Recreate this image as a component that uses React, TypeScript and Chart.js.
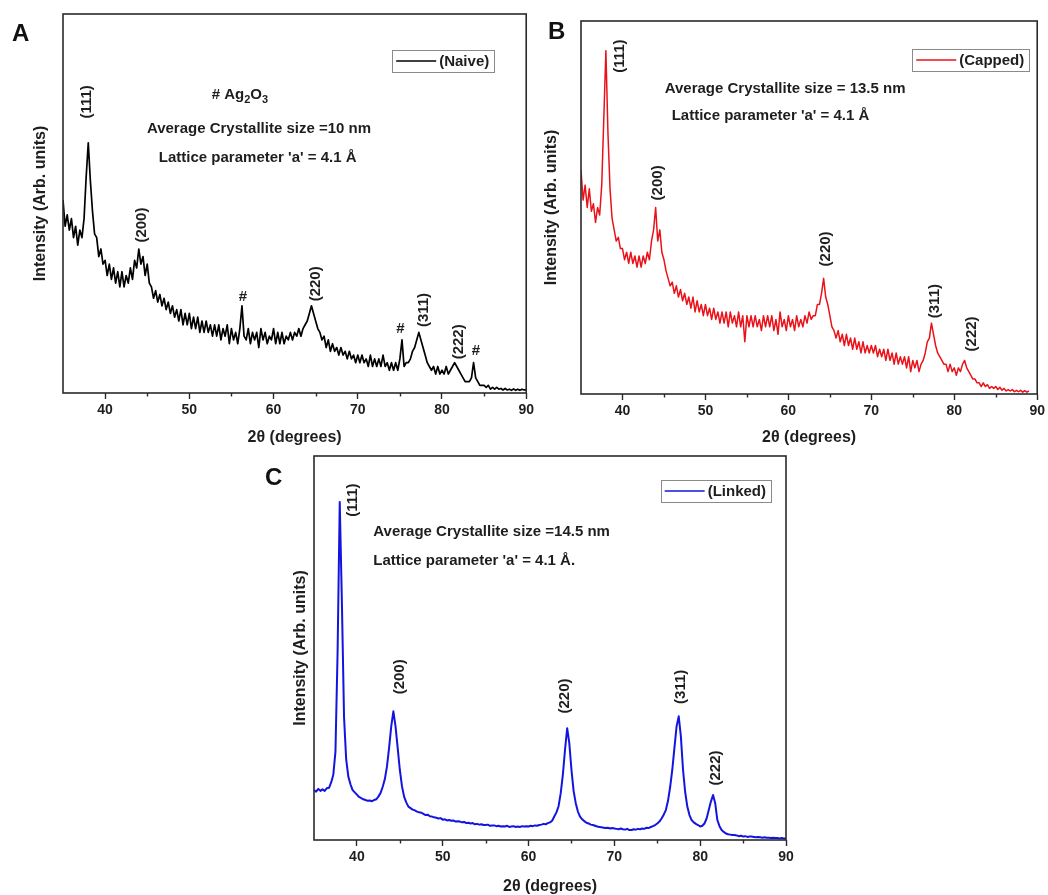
import React, { useEffect, useRef } from "react";
import { Chart, registerables } from "chart.js";

Chart.register(...registerables);

const FONT = '"Liberation Sans", Arial, Helvetica, sans-serif';
const TEXT_COLOR = "#1e1e1e";

// x grid of the scans (2θ, degrees)
const X_START = 35;
const X_STEP = 0.25;
const X_MIN = 35;
const X_MAX = 90;
const X_TICK_LABELS = [40, 50, 60, 70, 80, 90];
const X_MINOR_TICKS = [45, 55, 65, 75, 85];

// Intensity (arb. units, 0-100 of the plot height), one value per 0.25° from 35° to 90°
const NAIVE = [
  51, 44, 47, 43, 46, 41, 44, 39, 43, 41, 46, 57, 66, 56, 48, 42, // 35-38
  41, 36, 38, 34, 35, 31, 34, 30, 33, 29, 32, 28, 32, 28, 31, 29, // 39-42
  33, 30, 35, 33, 38, 34, 36, 31, 34, 29, 28, 25, 27, 24, 26, 23, // 43-46
  25, 22, 24, 21, 23, 20, 22, 19, 22, 18, 21, 18, 21, 17, 20, 17, // 47-50
  20, 16, 19, 16, 19, 16, 18, 15, 18, 15, 18, 14, 17, 15, 18, 13, // 51-54
  17, 14, 16, 13, 17, 23, 15, 14, 17, 13, 16, 14, 16, 12, 17, 14, // 55-58
  16, 13, 15, 14, 17, 13, 16, 13, 16, 13, 15, 14, 16, 14, 16, 15, // 59-62
  17, 15, 17, 18, 19, 21, 23, 21, 19, 17, 16, 14, 15, 12, 14, 11, // 63-66
  13, 11, 12, 10, 12, 10, 11, 9, 11, 9, 10, 8, 10, 8, 10, 8,       // 67-70
  9, 7, 10, 7, 9, 7, 9, 7, 10, 7, 8, 6, 8, 6, 8, 6,                // 71-74
  9, 14, 7, 8, 8, 9, 11, 12, 14, 16, 14, 12, 10, 8, 7, 6,          // 75-78
  7, 5, 7, 5, 6, 5, 7, 5, 6, 7, 8, 7, 6, 5, 4, 3,                  // 79-82
  3, 3, 4, 8, 4, 3, 2, 2, 2, 1.5, 2, 1, 1.5, 1, 1.5, 1,            // 83-86
  1.2, 0.8, 1.2, 0.8, 1, 0.7, 1.1, 0.7, 1, 0.7, 1, 0.8, 0.8,       // 87-90
];

const CAPPED = [
  60, 52, 56, 50, 55, 49, 51, 46, 50, 48, 56, 74, 92, 70, 55, 47, // 35-38
  44, 41, 42, 39, 39, 36, 38, 35, 38, 35, 37, 34, 37, 34, 37, 35, // 39-42
  38, 36, 41, 44, 50, 41, 44, 38, 36, 33, 31, 29, 30, 27, 29, 26, // 43-46
  28, 25, 27, 24, 26, 23, 26, 22, 25, 22, 24, 21, 24, 21, 23, 20, // 47-50
  23, 20, 22, 19, 22, 19, 22, 18, 22, 19, 21, 18, 22, 18, 21, 14, // 51-54
  21, 18, 21, 18, 21, 18, 20, 17, 21, 18, 21, 18, 21, 17, 20, 16, // 55-58
  22, 18, 20, 17, 21, 18, 20, 17, 21, 18, 20, 18, 21, 19, 22, 20, // 59-62
  21, 21, 24, 24, 27, 31, 26, 24, 21, 18, 17, 15, 17, 14, 16, 13, // 63-66
  16, 13, 15, 12, 15, 12, 14, 11, 14, 11, 13, 11, 13, 11, 13, 10, // 67-70
  12, 10, 12, 9, 12, 9, 11, 8, 11, 8, 10, 8, 10, 7, 10, 6,        // 71-74
  9, 7, 9, 6, 8, 9, 11, 14, 15, 19, 16, 13, 11, 10, 9, 8,         // 75-78
  8, 6, 8, 6, 7, 5, 7, 6, 8, 9, 7, 6, 5, 4, 4, 3,                 // 79-82
  3, 2, 3, 2, 2.5, 1.5, 2, 1.5, 2, 1.2, 1.8, 1, 1.5, 0.8, 1.2, 0.8, // 83-86
  1.2, 0.6, 1, 0.6, 1, 0.5, 0.9, 0.5, 0.8, null, null, null, null,  // 87-90
];

const LINKED = [
  13, 12.6, 13.3, 12.8, 13.2, 12.8, 13.5, 13.6, 15, 17, 23, 49, 88, 62, 32, 21, // 35-38
  16.5, 14.5, 13, 12.4, 11.8, 11.2, 10.9, 10.6, 10.4, 10.2, 10.3, 10.1, 10.4, 10.6, 11.3, 12.2, // 39-42
  13.8, 15.8, 19.1, 24, 29.6, 33.5, 29.6, 24, 18.3, 14, 11.3, 9.8, 8.7, 8.3, 7.9, 7.7, // 43-46
  7.4, 7.2, 7.1, 6.8, 6.5, 6.6, 6.2, 6.1, 5.9, 5.8, 5.6, 5.7, 5.3, 5.4, 5.1, 5.2, // 47-50
  5.0, 5.1, 4.8, 4.9, 4.8, 4.6, 4.7, 4.4, 4.5, 4.3, 4.4, 4.1, 4.2, 4.0, 4.1, 3.9, // 51-54
  3.9, 4.0, 3.7, 3.8, 3.8, 3.6, 3.7, 3.5, 3.6, 3.5, 3.7, 3.4, 3.5, 3.6, 3.4, 3.5, // 55-58
  3.4, 3.6, 3.5, 3.6, 3.5, 3.7, 3.6, 3.8, 3.7, 3.9, 4.0, 4.2, 4.1, 4.4, 4.6, 5.0, // 59-62
  6.1, 7.2, 8.8, 12.2, 17, 23.5, 29.1, 25.2, 18.3, 12.8, 9.6, 7.4, 6.1, 5.4, 4.9, 4.5, // 63-66
  4.3, 4.0, 3.9, 3.7, 3.5, 3.4, 3.3, 3.2, 3.1, 3.2, 3.0, 3.1, 3.0, 2.9, 2.8, 3.0, // 67-70
  2.8, 2.7, 2.9, 2.6, 2.6, 2.8, 2.7, 2.9, 2.8, 3.0, 2.9, 3.2, 3.1, 3.4, 3.6, 3.9, // 71-74
  4.3, 4.8, 5.6, 6.6, 7.8, 10.2, 13.8, 18.3, 24, 29.6, 32.2, 27, 18.3, 12.5, 8.7, 6.5, // 75-78
  5.2, 4.6, 4.2, 3.9, 3.5, 3.7, 4.3, 5.6, 7.8, 10, 11.7, 9.6, 5.2, 3.6, 2.6, 2.1, // 79-82
  1.7, 1.5, 1.4, 1.3, 1.3, 1.2, 1.0, 1.1, 0.9, 1.0, 0.8, 0.9, 0.9, 0.8, 0.7, 0.8, // 83-86
  0.7, 0.6, 0.7, 0.6, 0.6, 0.5, 0.6, 0.5, 0.5, 0.4, 0.5, 0.4, 0.4, // 87-90
];

// Peak labels: [text, 2θ, intensity]
type Peak = [string, number, number];
const PEAKS_NAIVE: Peak[] = [
  ["(111)", 37.85, 76.8],
  ["(200)", 44.37, 44.3],
  ["(220)", 65.07, 28.8],
  ["(311)", 77.8, 21.9],
  ["(222)", 82.06, 13.5],
];
const HASHES_NAIVE: [number, number][] = [
  [56.37, 25.3],
  [75.07, 16.9],
  [84.04, 11.2],
];
const PEAKS_CAPPED: Peak[] = [
  ["(111)", 39.68, 90.6],
  ["(200)", 44.22, 56.6],
  ["(220)", 64.5, 38.9],
  ["(311)", 77.72, 24.9],
  ["(222)", 82.11, 16.1],
];
const PEAKS_LINKED: Peak[] = [
  ["(111)", 39.58, 88.5],
  ["(200)", 45.02, 42.5],
  ["(220)", 64.19, 37.5],
  ["(311)", 77.71, 39.9],
  ["(222)", 81.84, 18.75],
];

// Notes: text parts ([text, subscript?]), left 2θ, intensity
type Note = { parts: [string, boolean][]; x: number; y: number };
const NOTES_NAIVE: Note[] = [
  { parts: [["# Ag", false], ["2", true], ["O", false], ["3", true]], x: 52.66, y: 78.6 },
  { parts: [["Average Crystallite size =10 nm", false]], x: 44.96, y: 69.7 },
  { parts: [["Lattice parameter 'a' = 4.1 Å", false]], x: 46.38, y: 62.0 },
];
const NOTES_CAPPED: Note[] = [
  { parts: [["Average Crystallite size = 13.5 nm", false]], x: 45.09, y: 81.7 },
  { parts: [["Lattice parameter 'a' = 4.1 Å", false]], x: 45.93, y: 74.5 },
];
const NOTES_LINKED: Note[] = [
  { parts: [["Average Crystallite size =14.5 nm", false]], x: 41.91, y: 80.3 },
  { parts: [["Lattice parameter 'a' = 4.1 Å.", false]], x: 41.91, y: 72.7 },
];

type PanelCfg = {
  letter: string;
  letterLeft: number;
  letterTop: number;
  label: string;
  color: string;
  lineWidth: number;
  values: (number | null)[];
  peaks: Peak[];
  hashes: [number, number][];
  notes: Note[];
  left: number;
  top: number;
  width: number;
  height: number;
  padding: { left: number; right: number; top: number; bottom: number };
  yAxisWidth: number;
  xAxisHeight: number;
  yTitlePad: number;
  xTitlePad: number;
  legendRight: number;
  legendTop: number;
};

const PANELS: PanelCfg[] = [
  {
    letter: "A", letterLeft: 12, letterTop: 21,
    label: "(Naive)", color: "#000000", lineWidth: 1.7,
    values: NAIVE, peaks: PEAKS_NAIVE, hashes: HASHES_NAIVE, notes: NOTES_NAIVE,
    left: 0, top: 0, width: 537, height: 450,
    padding: { left: 0, right: 10, top: 14, bottom: 0 },
    yAxisWidth: 63, xAxisHeight: 57, yTitlePad: 33, xTitlePad: 4,
    legendRight: 32, legendTop: 36,
  },
  {
    letter: "B", letterLeft: 548, letterTop: 19,
    label: "(Capped)", color: "#ea1218", lineWidth: 1.5,
    values: CAPPED, peaks: PEAKS_CAPPED, hashes: [], notes: NOTES_CAPPED,
    left: 537, top: 0, width: 511, height: 450,
    padding: { left: 0, right: 9, top: 21, bottom: 0 },
    yAxisWidth: 44, xAxisHeight: 56, yTitlePad: 7, xTitlePad: 4,
    legendRight: 8, legendTop: 28,
  },
  {
    letter: "C", letterLeft: 265, letterTop: 465,
    label: "(Linked)", color: "#1414e0", lineWidth: 2,
    values: LINKED, peaks: PEAKS_LINKED, hashes: [], notes: NOTES_LINKED,
    left: 270, top: 450, width: 530, height: 445,
    padding: { left: 0, right: 14, top: 6, bottom: 0 },
    yAxisWidth: 44, xAxisHeight: 55, yTitlePad: 22.6, xTitlePad: 0.5,
    legendRight: 15, legendTop: 24,
  },
];

function XrdPanel({ cfg }: { cfg: PanelCfg }) {
  const ref = useRef<HTMLCanvasElement>(null);

  useEffect(() => {
    const canvas = ref.current;
    if (!canvas) return;
    const points = cfg.values.map((v, i) => ({ x: X_START + i * X_STEP, y: v }));

    const overlay = {
      id: "xrdOverlay",
      afterDraw(chart: any) {
        const { ctx, chartArea } = chart;
        const xs = chart.scales.x;
        const ys = chart.scales.y;
        ctx.save();
        // frame
        ctx.strokeStyle = "#2a2a2a";
        ctx.lineWidth = 1.6;
        ctx.strokeRect(chartArea.left, chartArea.top, chartArea.right - chartArea.left, chartArea.bottom - chartArea.top);
        // minor ticks
        ctx.lineWidth = 1.4;
        for (const v of X_MINOR_TICKS) {
          const px = Math.round(xs.getPixelForValue(v)) + 0.5;
          ctx.beginPath();
          ctx.moveTo(px, chartArea.bottom);
          ctx.lineTo(px, chartArea.bottom + 3.5);
          ctx.stroke();
        }
        ctx.fillStyle = TEXT_COLOR;
        // peak labels
        ctx.font = `bold 15px ${FONT}`;
        ctx.textAlign = "center";
        ctx.textBaseline = "middle";
        for (const [t, x, y] of cfg.peaks) {
          ctx.save();
          ctx.translate(xs.getPixelForValue(x), ys.getPixelForValue(y));
          ctx.rotate(-Math.PI / 2);
          ctx.fillText(t, 0, 0);
          ctx.restore();
        }
        for (const [x, y] of cfg.hashes) {
          ctx.fillText("#", xs.getPixelForValue(x), ys.getPixelForValue(y));
        }
        // notes
        ctx.textAlign = "left";
        for (const n of cfg.notes) {
          let px = xs.getPixelForValue(n.x);
          const py = ys.getPixelForValue(n.y);
          for (const [t, sub] of n.parts) {
            ctx.font = sub ? `bold 11px ${FONT}` : `bold 15px ${FONT}`;
            ctx.fillText(t, px, sub ? py + 4.5 : py);
            px += ctx.measureText(t).width;
          }
        }
        // legend
        ctx.font = `bold 15px ${FONT}`;
        const tw = ctx.measureText(cfg.label).width;
        const boxW = 4 + 40 + 3 + tw + 5;
        const boxH = 22;
        const bx = chartArea.right - cfg.legendRight - boxW;
        const by = chartArea.top + cfg.legendTop;
        ctx.fillStyle = "#ffffff";
        ctx.fillRect(bx, by, boxW, boxH);
        ctx.strokeStyle = "#8a8a8a";
        ctx.lineWidth = 1;
        ctx.strokeRect(Math.round(bx) + 0.5, Math.round(by) + 0.5, Math.round(boxW), boxH);
        ctx.strokeStyle = cfg.color;
        ctx.lineWidth = 1.5;
        ctx.beginPath();
        ctx.moveTo(bx + 4, by + boxH / 2);
        ctx.lineTo(bx + 44, by + boxH / 2);
        ctx.stroke();
        ctx.fillStyle = TEXT_COLOR;
        ctx.textBaseline = "middle";
        ctx.fillText(cfg.label, bx + 47, by + boxH / 2 + 0.5);
        ctx.restore();
      },
    };

    const chart = new Chart(canvas, {
      type: "line",
      data: {
        datasets: [
          {
            label: cfg.label,
            data: points as any,
            borderColor: cfg.color,
            backgroundColor: cfg.color,
            borderWidth: cfg.lineWidth,
            borderJoinStyle: "round",
            pointRadius: 0,
            tension: 0,
            fill: false,
            spanGaps: false,
          },
        ],
      },
      options: {
        responsive: false,
        animation: false,
        layout: { padding: cfg.padding },
        plugins: { legend: { display: false }, tooltip: { enabled: false } },
        scales: {
          x: {
            type: "linear",
            min: X_MIN,
            max: X_MAX,
            afterBuildTicks: (s: any) => {
              s.ticks = X_TICK_LABELS.map((v) => ({ value: v }));
            },
            afterFit: (s: any) => {
              s.height = cfg.xAxisHeight;
            },
            ticks: {
              color: TEXT_COLOR,
              font: { family: FONT, size: 14, weight: "bold" },
              padding: 3,
              maxRotation: 0,
              autoSkip: false,
              callback: (v: any) => String(v),
            },
            grid: {
              display: true,
              drawOnChartArea: false,
              drawTicks: true,
              tickLength: 6,
              tickColor: "#2a2a2a",
              tickWidth: 1.4,
            },
            border: { display: false },
            title: {
              display: true,
              text: "2θ (degrees)",
              color: TEXT_COLOR,
              font: { family: FONT, size: 16, weight: "bold", lineHeight: 1 },
              padding: { top: cfg.xTitlePad, bottom: cfg.xTitlePad },
            },
          },
          y: {
            type: "linear",
            min: 0,
            max: 100,
            afterFit: (s: any) => {
              s.width = cfg.yAxisWidth;
            },
            ticks: { display: false },
            grid: { display: false },
            border: { display: false },
            title: {
              display: true,
              text: "Intensity (Arb. units)",
              color: TEXT_COLOR,
              font: { family: FONT, size: 16, weight: "bold", lineHeight: 1 },
              padding: { top: cfg.yTitlePad, bottom: cfg.yTitlePad },
            },
          },
        },
      } as any,
      plugins: [overlay],
    });
    return () => chart.destroy();
  }, [cfg]);

  return (
    <canvas
      ref={ref}
      width={cfg.width}
      height={cfg.height}
      style={{ position: "absolute", left: cfg.left, top: cfg.top, width: cfg.width, height: cfg.height }}
    />
  );
}

export default function App() {
  return (
    <div style={{ position: "absolute", left: 0, top: 0, width: 1048, height: 895, background: "#ffffff" }}>
      {PANELS.map((p) => (
        <XrdPanel key={p.letter} cfg={p} />
      ))}
      {PANELS.map((p) => (
        <div
          key={"l" + p.letter}
          style={{
            position: "absolute",
            left: p.letterLeft,
            top: p.letterTop,
            fontFamily: FONT,
            fontWeight: "bold",
            fontSize: 24,
            lineHeight: "24px",
            color: "#111111",
          }}
        >
          {p.letter}
        </div>
      ))}
    </div>
  );
}
